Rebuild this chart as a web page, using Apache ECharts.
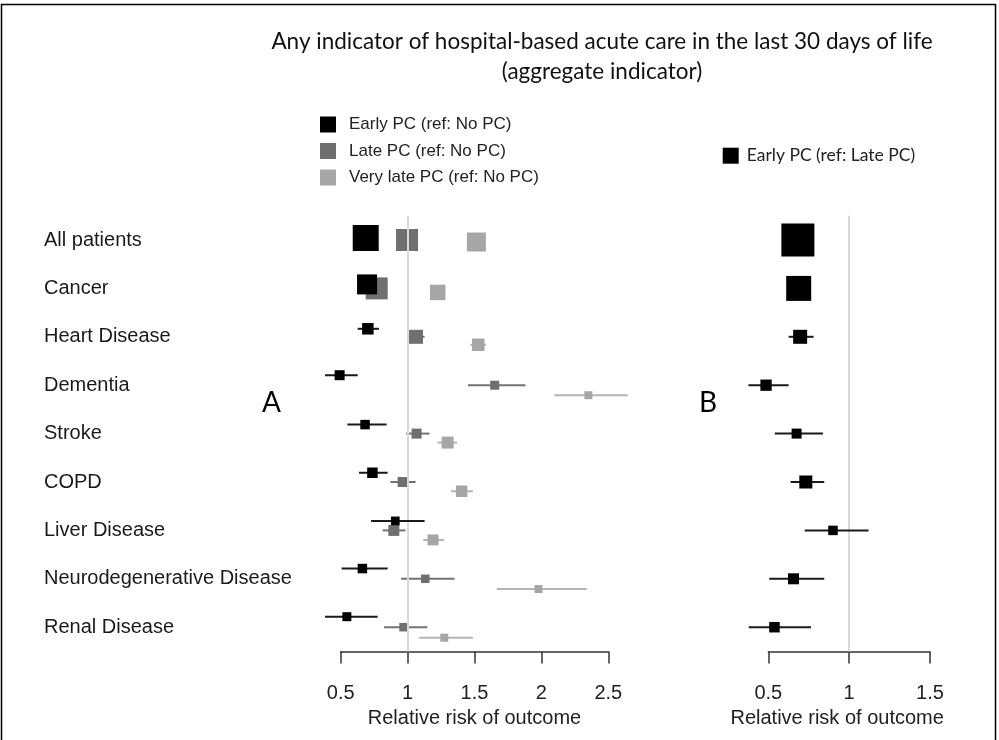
<!DOCTYPE html>
<html>
<head>
<meta charset="utf-8">
<script src="https://cdn.jsdelivr.net/npm/echarts@6/dist/echarts.min.js"></script>
<style>html,body{margin:0;padding:0;background:#fff}#c{width:999px;height:740px}</style>
</head>
<body>
<div id="c"></div>
<script>
// ---------- data ----------
const categories = ['All patients','Cancer','Heart Disease','Dementia','Stroke','COPD','Liver Disease','Neurodegenerative Disease','Renal Disease'];
const ticksA = [0.5, 1, 1.5, 2, 2.5];
const ticksB = [0.5, 1, 1.5];
const refValue = 1;

const seriesNamesA = ['Early PC (ref: No PC)', 'Late PC (ref: No PC)', 'Very late PC (ref: No PC)'];
const seriesNameB = 'Early PC (ref: Late PC)';

// Panel A: Early PC (ref: No PC)
const earlyRR = [0.687, 0.697, 0.703, 0.492, 0.682, 0.737, 0.908, 0.662, 0.546];
const earlyLo = [0.672, 0.683, 0.627, 0.383, 0.550, 0.637, 0.727, 0.507, 0.383];
const earlyHi = [0.703, 0.712, 0.786, 0.627, 0.843, 0.851, 1.127, 0.851, 0.776];
const earlyWeight = [2.6, 2.0, 1.15, 1.0, 0.95, 1.05, 0.87, 0.95, 0.9];
// Panel A: Late PC (ref: No PC)
const lateRR = [0.996, 0.769, 1.063, 1.651, 1.067, 0.963, 0.897, 1.132, 0.970];
const lateLo = [0.980, 0.752, 1.005, 1.451, 0.990, 0.871, 0.813, 0.951, 0.824];
const lateHi = [1.012, 0.787, 1.127, 1.881, 1.164, 1.060, 0.985, 1.351, 1.147];
const lateWeight = [2.2, 2.2, 1.4, 0.9, 1.0, 1.0, 1.1, 0.85, 0.85];
// Panel A: Very late PC (ref: No PC)
const vlateRR = [1.514, 1.225, 1.528, 2.351, 1.299, 1.404, 1.190, 1.978, 1.274];
const vlateLo = [1.495, 1.205, 1.470, 2.097, 1.224, 1.324, 1.117, 1.667, 1.087];
const vlateHi = [1.534, 1.245, 1.587, 2.645, 1.369, 1.488, 1.272, 2.339, 1.488];
const vlateWeight = [1.9, 1.55, 1.25, 0.8, 1.2, 1.15, 1.1, 0.8, 0.8];
// Panel B: Early PC (ref: Late PC)
const bRR = [0.683, 0.688, 0.697, 0.486, 0.675, 0.732, 0.900, 0.656, 0.538];
const bLo = [0.665, 0.672, 0.626, 0.377, 0.540, 0.638, 0.725, 0.506, 0.379];
const bHi = [0.700, 0.705, 0.780, 0.626, 0.838, 0.846, 1.120, 0.846, 0.764];
const bWeight = [3.3, 2.5, 1.4, 1.13, 1.0, 1.3, 0.95, 1.1, 1.05];

// ---------- rendering ----------
const BOX_PX = 10;          // px per weight unit
const ROW_HALF = 15;        // half-height of the band used by the stacked estimates
const FONT = 'Liberation Sans';
const FONT2 = 'Lato';

function rows(rr, lo, hi, w) {
  return rr.map((v, i) => [v, lo[i], hi[i], i, w[i] * BOX_PX]);
}
const rowMaxA = categories.map((_, i) => Math.max(earlyWeight[i], lateWeight[i], vlateWeight[i]) * BOX_PX);

function makeRender(sign, fill, whisker, rowMax) {
  return function (params, api) {
    const rr = api.value(0), lo = api.value(1), hi = api.value(2), row = api.value(3), size = api.value(4);
    const c = api.coord([rr, row]);
    const dy = rowMax ? sign * Math.max(0, ROW_HALF - rowMax[row] / 2) : 0;
    const y = c[1] + dy;
    const xl = api.coord([lo, row])[0], xh = api.coord([hi, row])[0];
    return {
      type: 'group',
      children: [
        { type: 'line', shape: { x1: xl, y1: y, x2: xh, y2: y }, style: { stroke: whisker, lineWidth: 2 } },
        { type: 'rect', shape: { x: c[0] - size / 2, y: y - size / 2, width: size, height: size }, style: { fill: fill } }
      ]
    };
  };
}

const colors = ['#000000', '#6f6f6f', '#a6a6a6'];
const whiskers = ['#1a1a1a', '#727272', '#b4b4b4'];

const gridTop = 215.8, gridH = 435.6;

const axisCommon = (ticks, namePad) => ({
  type: 'value',
  min: ticks[0], max: ticks[ticks.length - 1], interval: ticks[1] - ticks[0],
  axisLine: { show: true, lineStyle: { color: '#333', width: 1.5 } },
  axisTick: { show: true, length: 12, lineStyle: { color: '#333', width: 1.5 } },
  splitLine: { show: false },
  axisLabel: { fontFamily: FONT, fontSize: 20, color: '#222', margin: 32 },
  name: 'Relative risk of outcome',
  nameLocation: 'middle',
  nameGap: 57,
  nameTextStyle: { fontFamily: FONT, fontSize: 20, color: '#222', padding: namePad }
});

const option = {
  backgroundColor: '#fff',
  animation: false,
  title: {
    text: 'Any indicator of hospital-based acute care in the last 30 days of life\n(aggregate indicator)',
    left: 597, top: 22, textAlign: 'center',
    textStyle: { fontFamily: FONT2, fontSize: 22.5, fontWeight: 'normal', color: '#111', lineHeight: 30 }
  },
  legend: [
    {
      data: seriesNamesA, left: 320, top: 116, orient: 'vertical', icon: 'rect', padding: 0,
      itemWidth: 16, itemHeight: 16, itemGap: 9.5, selectedMode: false,
      textStyle: { fontFamily: FONT, fontSize: 17, color: '#222', padding: [0, 0, 0, 8] }
    },
    {
      data: [seriesNameB], left: 722.7, top: 146.7, icon: 'rect', padding: 0,
      itemWidth: 16, itemHeight: 16, selectedMode: false,
      textStyle: { fontFamily: FONT2, fontSize: 17.5, color: '#222', padding: [0, 0, 0, 3] }
    }
  ],
  grid: [
    { left: 340.7, width: 267.6, top: gridTop, height: gridH },
    { left: 768.3, width: 161.7, top: gridTop, height: gridH }
  ],
  xAxis: [
    Object.assign(axisCommon(ticksA, [0, 0, 0, 0]), { gridIndex: 0 }),
    Object.assign(axisCommon(ticksB, [0, 24, 0, 0]), { gridIndex: 1 })
  ],
  yAxis: [
    {
      type: 'category', gridIndex: 0, data: categories, inverse: true,
      axisLine: { show: false }, axisTick: { show: false }, splitLine: { show: false },
      axisLabel: { align: 'left', margin: 296.7, fontFamily: FONT, fontSize: 20, color: '#1a1a1a' }
    },
    {
      type: 'category', gridIndex: 1, data: categories, inverse: true,
      axisLine: { show: false }, axisTick: { show: false }, splitLine: { show: false },
      axisLabel: { show: false }
    }
  ],
  graphic: [
    { type: 'rect', shape: { x: 1.5, y: 4.5, width: 994, height: 760 }, style: { fill: 'none', stroke: '#000', lineWidth: 1.5 }, z: 0 },
    { type: 'text', left: 262, top: 389, style: { text: 'A', fontFamily: FONT2, fontSize: 28, fill: '#000' } },
    { type: 'text', left: 699, top: 389, style: { text: 'B', fontFamily: FONT2, fontSize: 28, fill: '#000' } }
  ],
  series: [
    {
      type: 'line', xAxisIndex: 0, yAxisIndex: 0, data: [], z: 1, silent: true,
      markLine: { symbol: 'none', silent: true, label: { show: false }, lineStyle: { color: '#d9d9d9', width: 2, type: 'solid' }, data: [{ xAxis: refValue }] }
    },
    {
      type: 'line', xAxisIndex: 1, yAxisIndex: 1, data: [], z: 1, silent: true,
      markLine: { symbol: 'none', silent: true, label: { show: false }, lineStyle: { color: '#d9d9d9', width: 2, type: 'solid' }, data: [{ xAxis: refValue }] }
    },
    {
      name: seriesNamesA[0], type: 'custom', xAxisIndex: 0, yAxisIndex: 0, z: 5, clip: false,
      itemStyle: { color: colors[0] }, encode: { x: 0, y: 3 },
      renderItem: makeRender(-1, colors[0], whiskers[0], rowMaxA), data: rows(earlyRR, earlyLo, earlyHi, earlyWeight)
    },
    {
      name: seriesNamesA[1], type: 'custom', xAxisIndex: 0, yAxisIndex: 0, z: 4, clip: false,
      itemStyle: { color: colors[1] }, encode: { x: 0, y: 3 },
      renderItem: makeRender(0, colors[1], whiskers[1], rowMaxA), data: rows(lateRR, lateLo, lateHi, lateWeight)
    },
    {
      name: seriesNamesA[2], type: 'custom', xAxisIndex: 0, yAxisIndex: 0, z: 3, clip: false,
      itemStyle: { color: colors[2] }, encode: { x: 0, y: 3 },
      renderItem: makeRender(1, colors[2], whiskers[2], rowMaxA), data: rows(vlateRR, vlateLo, vlateHi, vlateWeight)
    },
    {
      name: seriesNameB, type: 'custom', xAxisIndex: 1, yAxisIndex: 1, z: 5, clip: false,
      itemStyle: { color: colors[0] }, encode: { x: 0, y: 3 },
      renderItem: makeRender(0, colors[0], whiskers[0], null), data: rows(bRR, bLo, bHi, bWeight)
    }
  ]
};

const chart = echarts.init(document.getElementById('c'), null, { renderer: 'canvas' });
chart.setOption(option);
</script>
</body>
</html>
